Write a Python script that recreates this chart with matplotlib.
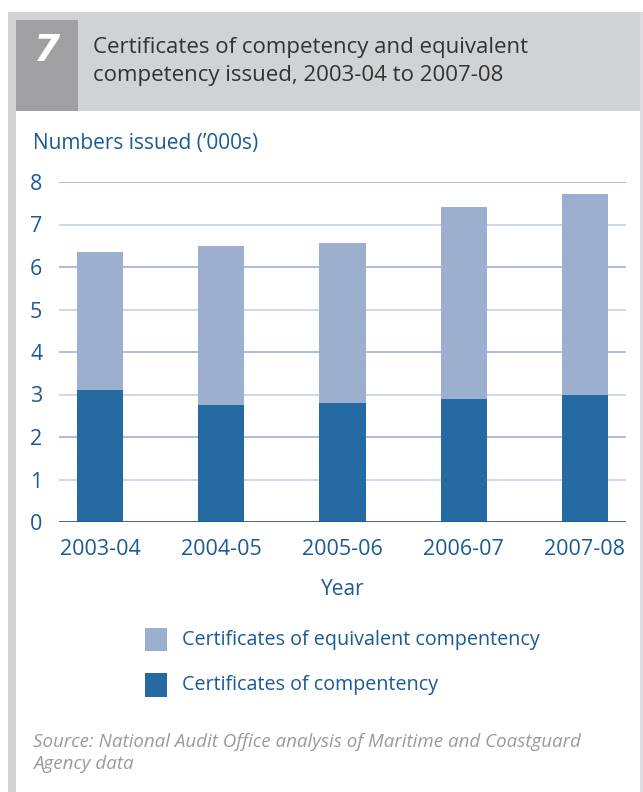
import matplotlib
matplotlib.use("Agg")
import matplotlib.pyplot as plt
from matplotlib.patches import Rectangle
from matplotlib import font_manager

years = ["2003-04", "2004-05", "2005-06", "2006-07", "2007-08"]
competency = [3.10, 2.75, 2.80, 2.89, 2.99]
equivalent = [3.25, 3.74, 3.76, 4.52, 4.73]
yticks = [0, 1, 2, 3, 4, 5, 6, 7, 8]

title_lines = ["Certificates of competency and equivalent",
               "competency issued, 2003-04 to 2007-08"]
ylabel = "Numbers issued (\u2019000s)"
xlabel = "Year"
leg_labels = ["Certificates of equivalent compentency", "Certificates of compentency"]
source = "Source: National Audit Office analysis of Maritime and Coastguard\nAgency data"

def pick(names):
    for n in names:
        try:
            font_manager.findfont(n, fallback_to_default=False)
            return n
        except Exception:
            pass
    return "DejaVu Sans"

FONT = pick(["Open Sans", "Lato"])
plt.rcParams['font.family'] = [FONT, 'DejaVu Sans']

DARK = "#256aa3"
LIGHT = "#9cafcf"
TXT = "#1b5a97"
GRAY = "#d1d2d4"
BOXGRAY = "#a0a0a2"

W, H = 643, 792
fig = plt.figure(figsize=(W / 100, H / 100), dpi=100)
fig.patch.set_facecolor("white")

def rect(x0, y0, x1, y1, color):
    fig.patches.append(Rectangle((x0 / W, 1 - y1 / H), (x1 - x0) / W, (y1 - y0) / H,
                                 transform=fig.transFigure, facecolor=color,
                                 edgecolor="none", zorder=0))

def ftext(x, y, s, **kw):
    fig.text(x / W, 1 - y / H, s, **kw)

rect(8, 12, 643, 111, GRAY)
rect(8, 12, 16, 792, GRAY)
rect(640, 12, 643, 792, "#dcdcde")
rect(16, 20, 78, 111, BOXGRAY)

ftext(46, 51, "7", color="white", fontsize=27, fontweight="bold", fontstyle="italic",
      ha="center", va="center", family=["DejaVu Sans"])
ftext(93, 47, title_lines[0], color="#333333", fontsize=16, ha="left", va="center")
ftext(93, 75, title_lines[1], color="#333333", fontsize=16, ha="left", va="center")

ax = fig.add_axes([59 / W, 1 - 522 / H, (626 - 59) / W, (522 - 182) / H])
x = list(range(len(years)))
ax.bar(x, competency, width=0.38, color=DARK, zorder=3)
ax.bar(x, equivalent, width=0.38, bottom=competency, color=LIGHT, zorder=3)
ax.set_xlim(-0.34, 4.34)
ax.set_ylim(0, 8)
for v in yticks[1:]:
    ax.axhline(v, color=("#9db0d3" if v % 2 == 0 else "#c6d1e3"), lw=1.2, zorder=1)
ax.axhline(0, color="#1f5c99", lw=2, zorder=4)
for s in ax.spines.values():
    s.set_visible(False)
ax.set_yticks(yticks)
ax.set_xticks(x)
ax.set_xticklabels(years)
ax.tick_params(length=0, labelcolor=TXT, labelsize=15.5)
ax.tick_params(axis="y", pad=12)
ax.tick_params(axis="x", pad=12)
ax.set_xlabel(xlabel, color=TXT, fontsize=15, labelpad=14)

ftext(33, 144, ylabel, color=TXT, fontsize=15, ha="left", va="center")

rect(145, 628, 167, 651, LIGHT)
rect(145, 673, 167, 697, DARK)
ftext(182, 640, leg_labels[0], color=TXT, fontsize=14.2, ha="left", va="center")
ftext(182, 685, leg_labels[1], color=TXT, fontsize=14.2, ha="left", va="center")

ftext(33, 753, source, color="#9a9a9a", fontsize=13.5, fontstyle="italic",
      ha="left", va="center", linespacing=1.25)

fig.savefig("out.png", dpi=100, facecolor="white")
